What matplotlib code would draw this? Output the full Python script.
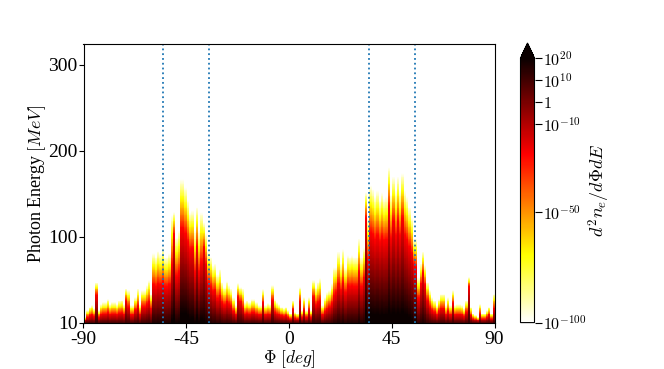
import numpy as np
import matplotlib
matplotlib.use('Agg')
import matplotlib.pyplot as plt
from matplotlib.colors import LogNorm

plt.rcParams['font.family'] = ['Liberation Serif', 'DejaVu Serif']
plt.rcParams['mathtext.fontset'] = 'cm'
plt.rcParams['axes.unicode_minus'] = False
plt.rcParams['font.size'] = 13

# highest energy bin that is still coloured, per 1 degree column
cutoff_left = [7, 15, 19, 21, 17, 47, 15, 22, 24, 24, 28, 22, 24, 24, 22, 26, 27, 22, 40, 38,
               21, 21, 30, 40, 22, 38, 38, 44, 50, 34, 81, 77, 84, 81, 88, 77, 77, 81, 125, 129,
               100, 108, 167, 167, 158, 143, 129, 131, 108, 135, 108, 129, 117, 104, 84, 77, 67, 69, 57, 63,
               48, 42, 49, 44, 40, 30, 21, 46, 42, 40, 24, 26, 24, 28, 28, 24, 21, 21, 39, 21,
               23, 22, 44, 28, 24, 22, 19, 17, 19, 15]
cutoff_right = [11, 26, 13, 11, 42, 15, 30, 15, 30, 15, 50, 42, 48, 52, 21, 30, 36, 38, 46, 65,
                65, 83, 69, 86, 65, 79, 77, 79, 77, 77, 98, 77, 88, 152, 123, 160, 156, 147, 154, 143,
                152, 145, 147, 181, 150, 170, 154, 170, 154, 174, 154, 147, 135, 123, 98, 98, 53, 69, 83, 67,
                48, 38, 30, 26, 21, 28, 34, 34, 21, 30, 21, 38, 21, 22, 22, 21, 17, 26, 53, 19,
                11, 9, 7, 22, 11, 11, 15, 19, 11, 34]

# fraction of the column height where the colour is pure red
red_left = [.45, .45, .45, .45, .45, .7, .45, .45, .45, .45, .45, .45, .45, .45, .45, .45, .45, .45, .65, .5,
            .45, .45, .5, .5, .45, .5, .5, .5, .5, .5, .55, .55, .55, .55, .55, .55, .55, .55, .55, .8,
            .55, .55, .66, .66, .66, .66, .66, .66, .55, .66, .55, .55, .75, .66, .55, .55, .55, .55, .5, .5,
            .5, .5, .5, .5, .5, .45, .45, .65, .6, .45, .45, .45, .45, .45, .45, .45, .45, .45, .6, .45,
            .45, .45, .6, .45, .45, .45, .45, .45, .45, .45]
red_right = [.45, .6, .45, .45, .6, .45, .5, .45, .5, .45, .6, .5, .5, .5, .45, .45, .45, .5, .5, .5,
             .55, .55, .55, .55, .55, .55, .55, .55, .55, .55, .6, .55, .6, .8, .6, .66, .66, .66, .66, .66,
             .66, .66, .66, .75, .66, .7, .66, .7, .66, .7, .66, .66, .66, .66, .7, .66, .55, .66, .7, .66,
             .55, .5, .5, .5, .45, .5, .5, .5, .45, .45, .45, .6, .45, .45, .45, .45, .45, .5, .8, .45,
             .45, .45, .45, .5, .45, .45, .45, .5, .45, .5]

# profile knots in log10 of the colour scale
log_white = -100
log_red = -24

dotted_phi = [-55, -35, 35, 55]
phi_ticks = [-90, -45, 0, 45, 90]
energy_ticks = [0, 100, 200, 300]
energy_labels = ['10', '100', '200', '300']
cbar_ticks = [1e-100, 1e-50, 1e-10, 1, 1e10, 1e20]
cbar_labels = [r'$10^{-100}$', r'$10^{-50}$', r'$10^{-10}$', r'$1$', r'$10^{10}$', r'$10^{20}$']

cutoff = np.array(cutoff_left + cutoff_right, dtype=float)
red_frac = np.array(red_left + red_right)
bottom = np.interp(cutoff, [10, 60, 150], [8, 14, 25])

energy = np.arange(0.5, 324.5, 1.0)
field = np.full((len(energy), len(cutoff)), np.nan)
for i in range(len(cutoff)):
    c = cutoff[i]
    r = red_frac[i] * c
    logv = np.interp(energy, [0, r, c], [bottom[i], log_red, log_white], right=np.nan)
    field[:, i] = 10.0 ** logv

fig = plt.figure(figsize=(6.64, 3.69), dpi=100)
ax = fig.add_axes([83.5 / 664, 1 - 322.6 / 369, 411 / 664, 278.6 / 369])

norm = LogNorm(vmin=1e-100, vmax=1e20)
cmap = plt.get_cmap('hot_r').copy()
cmap.set_bad('white')
im = ax.imshow(np.ma.masked_invalid(field), origin='lower', extent=[-90, 90, 0, 324], aspect='auto',
               cmap=cmap, norm=norm, interpolation='nearest')

for p in dotted_phi:
    ax.axvline(p, color='C0', ls=':', lw=1.3)

ax.set_xticks(phi_ticks)
ax.set_xticklabels([str(t) for t in phi_ticks])
ax.set_yticks(energy_ticks)
ax.set_yticklabels(energy_labels)
ax.tick_params(labelsize=14)
ax.tick_params(axis='y', pad=0.8)
ax.tick_params(axis='x', pad=2.5)
ax.set_xlabel(r'$\Phi\ [deg]$', labelpad=0, fontsize=12.5)
ax.set_ylabel(r'Photon Energy $[MeV]$', labelpad=0)

cax = fig.add_axes([520.5 / 664, 1 - 322.6 / 369, 14 / 664, 279.6 / 369])
cb = fig.colorbar(im, cax=cax, extend='max', extendfrac=0.057)
cb.set_ticks(cbar_ticks)
cb.set_ticklabels(cbar_labels)
cb.ax.minorticks_off()
cb.ax.tick_params(labelsize=11.5, length=5, pad=1)
cb.set_label(r'$d^2n_e/d\Phi dE$', labelpad=0)

fig.savefig('out.png', dpi=100)
